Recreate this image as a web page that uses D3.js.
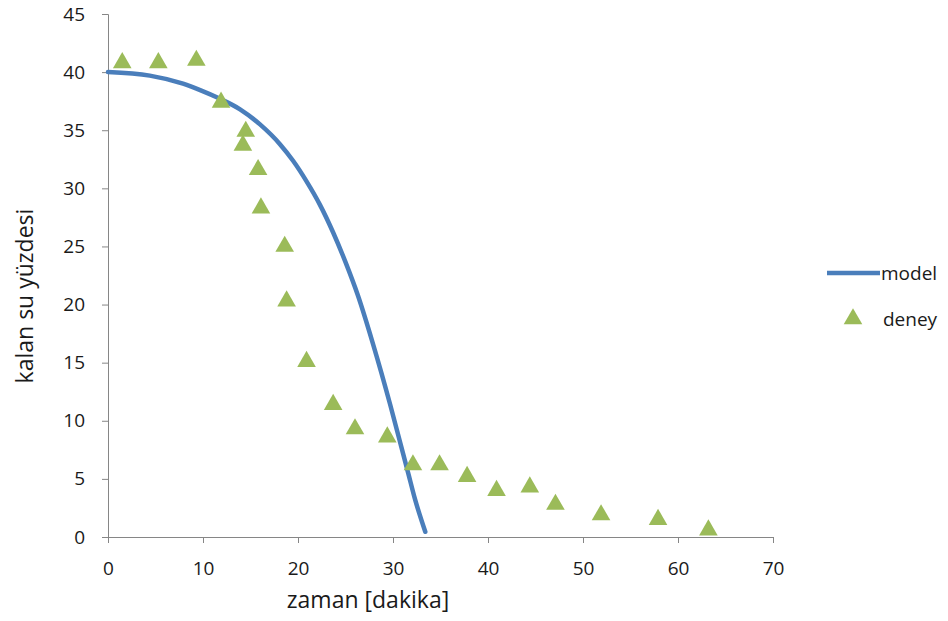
<!DOCTYPE html>
<html>
<head>
<meta charset="utf-8">
<script src="https://cdn.jsdelivr.net/npm/d3@7"></script>
<style>
  body { margin: 0; background: #fff; }
  text { font-family: "Open Sans", "Liberation Sans", sans-serif; fill: #1a1a1a; }
  .axis path, .axis line { stroke: #868686; }
</style>
</head>
<body>
<svg id="chart" width="948" height="621"></svg>
<script>
// model curve
var modelX = [0, 4.4, 7.9, 9.7, 11.8, 13.9, 16.0, 18.1, 19.5, 20.9, 22.3, 23.7, 25.0, 26.3, 27.9, 29.7, 30.7, 31.6, 32.3, 33.4];
var modelY = [40.0, 39.7, 39.0, 38.45, 37.7, 36.8, 35.5, 33.8, 32.35, 30.6, 28.6, 26.2, 23.65, 20.8, 16.6, 11.4, 8.3, 5.5, 3.3, 0.45];

// experiment points
var deneyX = [1.5, 5.3, 9.3, 11.9, 14.5, 14.2, 15.8, 16.1, 18.6, 18.8, 20.9, 23.7, 26.0, 29.4, 32.1, 34.9, 37.8, 40.9, 44.4, 47.1, 51.9, 57.9, 63.2];
var deneyY = [40.8, 40.8, 41.0, 37.4, 34.9, 33.7, 31.6, 28.3, 25.0, 20.3, 15.1, 11.4, 9.3, 8.6, 6.2, 6.2, 5.2, 4.0, 4.3, 2.8, 1.9, 1.5, 0.6];

var xTicks = [0, 10, 20, 30, 40, 50, 60, 70];
var yTicks = [0, 5, 10, 15, 20, 25, 30, 35, 40, 45];

var seriesNames = ["model", "deney"];
var blue = "#4a7ebb", green = "#9bbb59";

var model = modelX.map((d, i) => ({x: d, y: modelY[i]}));
var deney = deneyX.map((d, i) => ({x: d, y: deneyY[i]}));

var svg = d3.select("#chart");

var x = d3.scaleLinear().domain([0, 70]).range([108, 773]);
var y = d3.scaleLinear().domain([0, 45]).range([537, 14]);

svg.append("g")
    .attr("class", "axis")
    .attr("transform", "translate(0,537)")
    .call(d3.axisBottom(x).tickValues(xTicks).tickSize(6).tickPadding(19))
    .call(g => g.selectAll("text").style("font-size", "19px").attr("fill", "#1a1a1a"));

svg.append("g")
    .attr("class", "axis")
    .attr("transform", "translate(108,0)")
    .call(d3.axisLeft(y).tickValues(yTicks).tickSize(6).tickPadding(17))
    .call(g => g.selectAll("text").style("font-size", "19px").attr("fill", "#1a1a1a"));

svg.selectAll(".axis .domain").attr("stroke", "#868686");

var line = d3.line()
    .x(d => x(d.x))
    .y(d => y(d.y))
    .curve(d3.curveMonotoneX);

svg.append("path")
    .datum(model)
    .attr("fill", "none")
    .attr("stroke", blue)
    .attr("stroke-width", 4.5)
    .attr("stroke-linecap", "round")
    .attr("d", line);

var tri = d3.symbol().type(d3.symbolTriangle).size(150);

svg.selectAll(".pt")
    .data(deney)
    .enter().append("path")
    .attr("class", "pt")
    .attr("transform", d => `translate(${x(d.x)},${y(d.y)})`)
    .attr("fill", green)
    .attr("d", tri);

// axis titles
svg.append("text")
    .attr("x", 368)
    .attr("y", 608)
    .attr("text-anchor", "middle")
    .style("font-size", "23px")
    .text("zaman [dakika]");

svg.append("text")
    .attr("transform", "translate(33,296) rotate(-90)")
    .attr("text-anchor", "middle")
    .style("font-size", "23px")
    .text("kalan su yüzdesi");

// legend
var legend = svg.selectAll(".legend")
    .data(seriesNames)
    .enter().append("g")
    .attr("class", "legend")
    .attr("transform", (d, i) => "translate(827," + (273 + i * 46) + ")");

legend.filter(d => d == "model").append("line")
    .attr("x1", 0).attr("x2", 53)
    .attr("stroke", blue).attr("stroke-width", 4.5);

legend.filter(d => d == "deney").append("path")
    .attr("transform", "translate(26,0)")
    .attr("fill", green)
    .attr("d", tri);

legend.append("text")
    .attr("x", (d, i) => i == 0 ? 54 : 56)
    .attr("dy", ".35em")
    .style("font-size", "19px")
    .text(d => d);
</script>
</body>
</html>
